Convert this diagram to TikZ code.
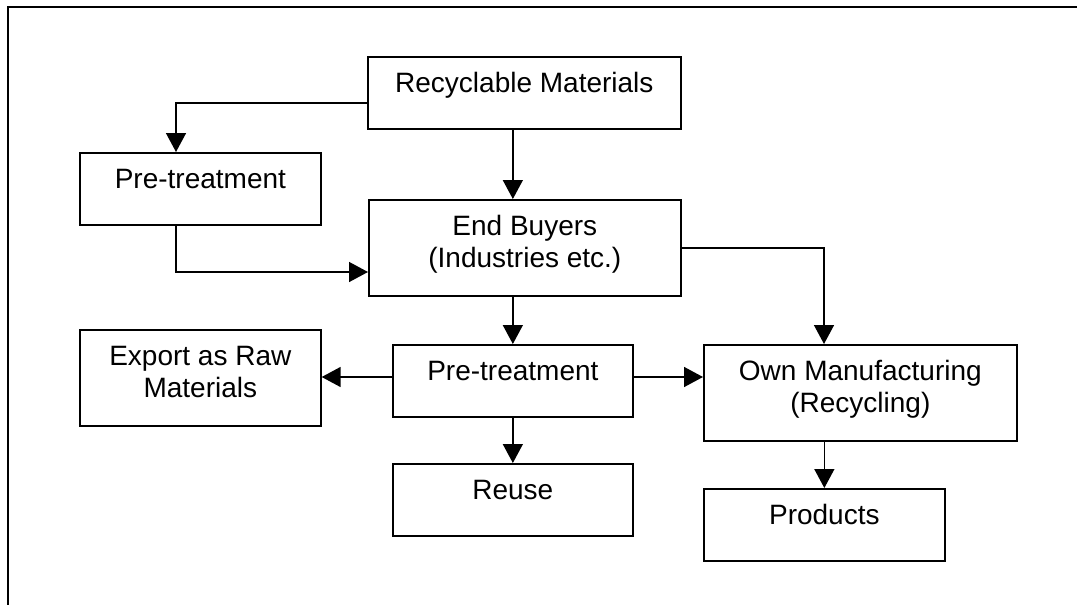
\documentclass[tikz,border=0pt]{standalone}
\usepackage{fontspec}
\setmainfont{Liberation Sans}
\usetikzlibrary{arrows.meta}

\tikzset{
  box/.style={draw, line width=1.7pt, anchor=north west, inner sep=0pt,
    align=center, font=\fontsize{28}{32}\selectfont},
  oneline/.style={text height=36pt, text depth=36pt},
  twoline/.style={text height=68pt, text depth=28pt},
}

\begin{document}
\begin{tikzpicture}[x=1pt,y=-1pt]
      \useasboundingbox (0,0) rectangle (1077,605);
      \draw[line width=2pt] (1077,7) -- (8,7) -- (8,605);

      \node[box,oneline,minimum width=313pt] (rec) at (367,56) {Recyclable Materials};
      \node[box,oneline,minimum width=241pt] (pre1) at (79,152) {Pre-treatment};
      \node[box,twoline,minimum width=312pt] (buy) at (368,199) {End Buyers\\(Industries etc.)};
      \node[box,twoline,minimum width=241pt] (exp) at (79,329) {Export as Raw\\Materials};
      \node[box,oneline,minimum width=240pt] (pre2) at (392,344) {Pre-treatment};
      \node[box,twoline,minimum width=313pt] (own) at (703,344) {Own Manufacturing\\(Recycling)};
      \node[box,oneline,minimum width=240pt] (reuse) at (392,463) {Reuse};
      \node[box,oneline,minimum width=241pt] (prod) at (703,488) {Products};

      \coordinate (k1) at (176,103);
      \coordinate (k2) at (176,272);
      \coordinate (k3) at (824,248);
      \coordinate (k4) at (512,377);

      \begin{scope}[line width=1.5pt, -{Triangle[length=19pt,width=20pt]}]
        \draw (rec.west |- k1) -| (pre1.north -| k1);
        \draw (rec.south -| pre2.north) -- (buy.north -| pre2.north);
        \draw (pre1.south -| k2) |- (buy.west |- k2);
        \draw (buy.east |- k3) -| (own.north -| k3);
        \draw (buy.south -| pre2.north) -- (pre2.north);
        \draw (pre2.west |- k4) -- (exp.east |- k4);
        \draw (pre2.east |- k4) -- (own.west |- k4);
        \draw (pre2.south) -- (reuse.north);
        \draw (own.south -| prod.north) -- (prod.north);
      \end{scope}
    \end{tikzpicture}
\end{document}
